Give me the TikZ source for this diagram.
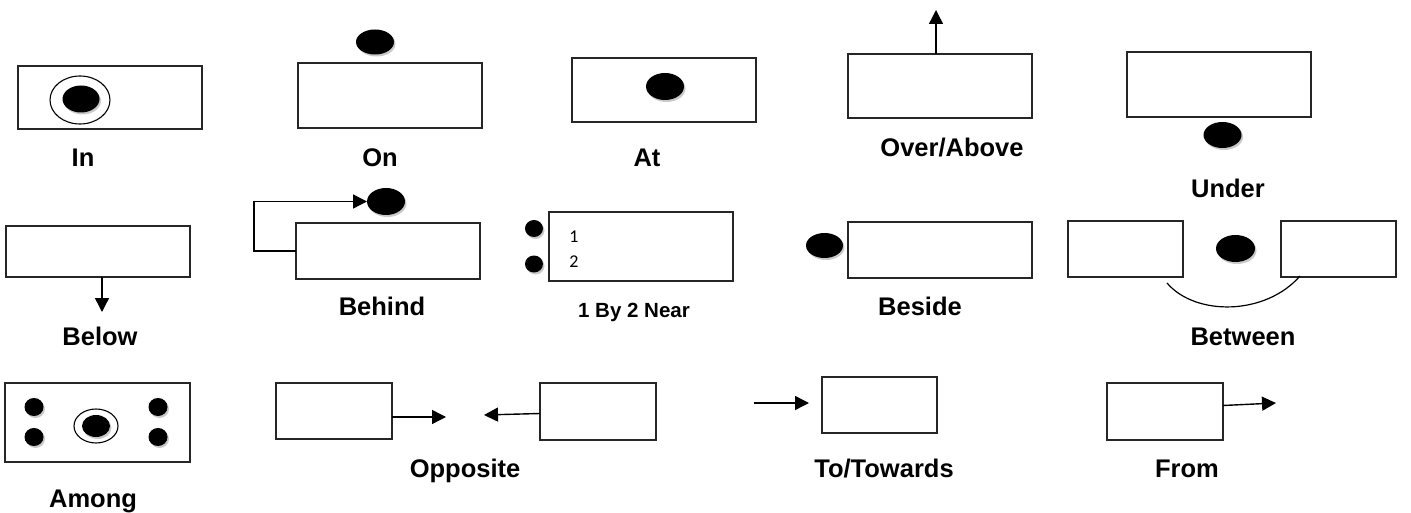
\documentclass[tikz,border=0pt]{standalone}
\usepackage{fontspec}
\setmainfont{Liberation Sans}
\newfontfamily\numfont{Carlito}
\usetikzlibrary{arrows.meta,shapes.geometric,shadows}
\begin{document}
\begin{tikzpicture}[x=1pt,y=-1pt,
  box/.style={draw=black!85,line width=1.5pt,fill=white,inner sep=0pt,outer sep=0pt},
  bdot/.style={ellipse,fill=black,inner sep=0pt,outer sep=0pt,
     drop shadow={shadow xshift=1.5pt,shadow yshift=-2pt,fill=gray!70,opacity=0.6}},
  ring/.style={ellipse,draw=black,line width=1.1pt,inner sep=0pt,outer sep=0pt},
  lbl/.style={font=\fontsize{25.5}{30}\selectfont\bfseries,inner sep=0pt,text height=18.3pt,text depth=0pt},
  small/.style={font=\fontsize{20.5}{24}\selectfont\bfseries,inner sep=0pt,text height=14.7pt,text depth=0pt},
  num/.style={font=\numfont\fontsize{18}{20}\selectfont,inner sep=0pt,text height=11.6pt,text depth=0pt},
  arr/.style={line width=1.4pt,-{Triangle[length=14pt,width=14pt]}}]
\useasboundingbox (0,0) rectangle (1411,513);
% Row 1
\node[box,minimum width=184,minimum height=63] (in) at (110,97.5) {};
\node[ring,minimum width=60,minimum height=48] (inring) at (80,100) {};
\node[bdot,minimum width=37,minimum height=27] (indot) at (81,99) {};
\node[lbl] (lin) at (83,157) {In};

\node[box,minimum width=184,minimum height=65] (on) at (390,95.5) {};
\node[bdot,minimum width=38,minimum height=25] (ondot) at (375,42) {};
\node[lbl] (lon) at (380,157) {On};

\node[box,minimum width=184,minimum height=64] (at) at (664,90) {};
\node[bdot,minimum width=38,minimum height=27] (atdot) at (665,86.5) {};
\node[lbl] (lat) at (647,157) {At};

\node[box,minimum width=184,minimum height=64] (ov) at (940,86) {};
\coordinate (ovtip) at (936,10);
\draw[arr] ([xshift=-4pt]ov.north) -- (ovtip);
\node[lbl] (lov) at (952,147) {Over/Above};

\node[box,minimum width=184,minimum height=65] (un) at (1219,84.5) {};
\node[bdot,minimum width=38,minimum height=26] (undot) at (1222.5,135) {};
\node[lbl] (lun) at (1228,188) {Under};

% Row 2
\node[box,minimum width=184,minimum height=51] (bl) at (98,251.5) {};
\coordinate (bltip) at (102,312);
\draw[arr] ([xshift=4pt]bl.south) -- (bltip);
\node[lbl] (lbl) at (100,336) {Below};

\node[box,minimum width=184,minimum height=56] (bh) at (388,251) {};
\node[bdot,minimum width=38,minimum height=27] (bhdot) at (386,201.5) {};
\coordinate (bhc) at (254,251);
\draw[arr] (bh.west) -- (bhc) |- (bhdot.west);
\node[lbl] (lbh) at (382,306) {Behind};

\node[box,minimum width=184,minimum height=69] (nr) at (641,246.5) {};
\node[bdot,minimum width=18,minimum height=17] (nrd1) at (534,228.5) {};
\node[bdot,minimum width=18,minimum height=17] (nrd2) at (534,264) {};
\node[num] (n1) at (574,237) {1};
\node[num] (n2) at (574,262) {2};
\node[small] (lnr) at (634,310) {1 By 2 Near};

\node[box,minimum width=184,minimum height=56] (bs) at (940,250) {};
\node[bdot,minimum width=37,minimum height=25] (bsdot) at (824.5,245.5) {};
\node[lbl] (lbs) at (920,306) {Beside};

\node[box,minimum width=115,minimum height=56] (bwl) at (1125.5,249) {};
\node[box,minimum width=115,minimum height=56] (bwr) at (1338.5,249) {};
\node[bdot,minimum width=39,minimum height=27] (bwdot) at (1235.5,248.5) {};
\coordinate (arcA) at (1167,283);
\coordinate (arcB) at (1300,276);
\draw[line width=1.2pt] (arcA) .. controls (1195,316) and (1265,316) .. (arcB);
\node[lbl] (lbw) at (1243,336) {Between};

% Row 3
\node[box,minimum width=185,minimum height=79] (am) at (97.5,422.5) {};
\node[bdot,minimum width=19,minimum height=18] (amd1) at (34,407) {};
\node[bdot,minimum width=19,minimum height=18] (amd2) at (34,437) {};
\node[bdot,minimum width=19,minimum height=18] (amd3) at (158,407) {};
\node[bdot,minimum width=19,minimum height=18] (amd4) at (158,437) {};
\node[ring,minimum width=44,minimum height=34] (amring) at (96,426) {};
\node[bdot,minimum width=28,minimum height=22] (amdot) at (96,426) {};
\node[lbl] (lam) at (93,498) {Among};

\node[box,minimum width=116,minimum height=56] (opl) at (334,411) {};
\node[box,minimum width=116,minimum height=57] (opr) at (598,411.5) {};
\coordinate (opltip) at (446,417);
\coordinate (oprtip) at (484,415);
\draw[arr] ([yshift=-6pt]opl.east) -- (opltip);
\draw[arr] ([yshift=-2pt]opr.west) -- (oprtip);
\node[lbl] (lop) at (465,468) {Opposite};

\node[box,minimum width=115,minimum height=56] (tt) at (879.5,405) {};
\coordinate (ttstart) at (754,403);
\draw[arr] (ttstart) -- ([xshift=-13pt,yshift=2pt]tt.west);
\node[lbl] (ltt) at (884,468) {To/Towards};

\node[box,minimum width=116,minimum height=57] (fr) at (1165,411.5) {};
\coordinate (frtip) at (1276,403);
\draw[arr] ([yshift=6pt]fr.east) -- (frtip);
\node[lbl] (lfr) at (1187,468) {From};
\end{tikzpicture}
\end{document}
